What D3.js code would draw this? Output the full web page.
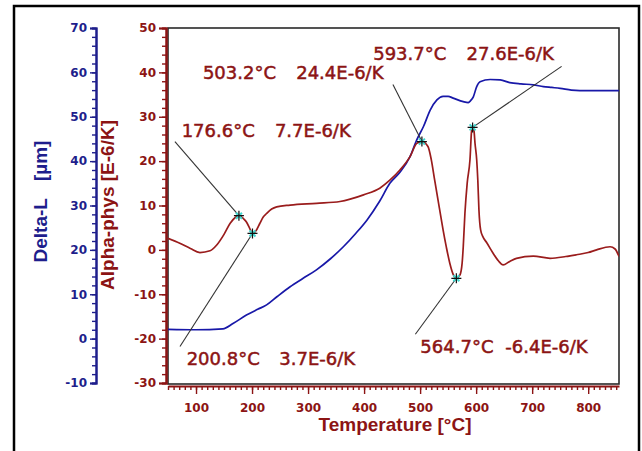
<!DOCTYPE html>
<html>
<head>
<meta charset="utf-8">
<script src="https://cdn.jsdelivr.net/npm/d3@7"></script>
<style>
  html, body { margin: 0; padding: 0; background: #fff; }
  svg { display: block; }
</style>
</head>
<body>
<script>
// ---------------- DATA ----------------
// Alpha-phys curve [E-6/K] vs temperature [°C]
const alphaTemps = [50, 71, 90, 107, 125, 137, 150, 161, 170, 176.6, 185, 190, 196, 200.8, 207, 214, 220, 226, 235, 244, 268, 315, 357, 399, 428, 446, 464, 482, 494, 503.2, 514, 520, 526, 532, 537, 541, 547, 553, 559, 564.7, 571, 575, 577, 580, 584, 589, 592, 593.7, 596, 598, 601, 603, 605, 608, 612, 619, 630, 640, 648, 660, 672, 702, 732, 760, 779, 800, 815, 839, 848, 855];
const alphaValues = [2.6, 1.5, 0.3, -0.6, -0.2, 1.1, 3.5, 6.0, 7.3, 7.7, 7.0, 6.3, 4.8, 3.7, 4.3, 6.0, 7.4, 8.2, 9.2, 9.7, 10.1, 10.5, 10.9, 12.4, 13.9, 15.7, 18.0, 21.0, 24.0, 24.4, 23.3, 20.3, 15.7, 11.2, 7.5, 4.5, 0.5, -3.0, -5.5, -6.4, -5.7, -3.0, 0.7, 8.3, 15.0, 20.3, 27.0, 27.6, 27.0, 24.0, 20.3, 15.7, 9.0, 4.5, 3.0, 1.6, -0.7, -2.5, -3.4, -2.6, -1.9, -1.4, -1.9, -1.5, -1.1, -0.6, 0.0, 0.7, 0.2, -1.5];

// Delta-L curve [µm] vs temperature [°C]
const deltaTemps = [50, 100, 148, 166, 190, 210, 226, 245, 268, 290, 315, 340, 363, 385, 405, 428, 446, 464, 482, 494, 506, 518, 530, 541, 550, 559, 577, 586, 590, 595, 601, 607, 625, 643, 660, 680, 702, 720, 735, 750, 770, 785, 855];
const deltaValues = [2.1, 2.0, 2.2, 3.4, 5.3, 6.6, 7.6, 9.5, 11.7, 13.5, 15.5, 18.0, 20.7, 23.7, 26.7, 31.0, 35.0, 37.5, 41.0, 44.8, 47.8, 51.5, 53.8, 54.6, 54.6, 54.2, 53.4, 53.2, 53.6, 54.5, 56.8, 57.9, 58.4, 58.3, 57.7, 57.4, 57.2, 56.8, 56.6, 56.4, 56.0, 55.9, 55.9];

// Marked points (temperature, alpha)
const markTemps = [176.6, 200.8, 503.2, 593.7, 564.7];
const markValues = [7.7, 3.7, 24.4, 27.6, -6.4];

// Tick labels
const xTickLabels = [100, 200, 300, 400, 500, 600, 700, 800];
const alphaTickLabels = [-30, -20, -10, 0, 10, 20, 30, 40, 50];
const deltaTickLabels = [-10, 0, 10, 20, 30, 40, 50, 60, 70];

// ---------------- LAYOUT ----------------
const W = 642, H = 451;
const plot = { left: 168, right: 619, top: 28, bottom: 383 };
// leader line end offsets (px) from the marker, and label offsets from the leader end
const leaderOffsets = [[-64, -74], [-72.5, 113], [-29, -57], [89, -61], [-41, 56]];
const labelOffsets = [[6.7, -5], [6.7, 18.3], [-190, -5.7], [-188.4, -6], [5, 19]];
const valueGaps = [93.3, 92.6, 93.3, 93.4, 85];

const RED = "#8c1414";
const RED_LINE = "#9a1c1c";
const BLUE = "#1e1e8c";
const BLUE_LINE = "#1818a8";

const svg = d3.select("body").append("svg").attr("width", W).attr("height", H);
svg.append("rect").attr("width", W).attr("height", H).attr("fill", "#fff");

// outer frame
svg.append("rect").attr("x", 14).attr("y", 6).attr("width", 625).attr("height", 460)
  .attr("fill", "none").attr("stroke", "#000").attr("stroke-width", 2.5);

const x = d3.scaleLinear().domain([50, 855]).range([plot.left, plot.right]);
const yA = d3.scaleLinear().domain([-30, 50]).range([plot.bottom, plot.top]);
const yD = d3.scaleLinear().domain([-10, 70]).range([plot.bottom, plot.top]);

// plot frame
svg.append("rect").attr("x", plot.left).attr("y", plot.top)
  .attr("width", plot.right - plot.left).attr("height", plot.bottom + 1 - plot.top)
  .attr("fill", "none").attr("stroke", "#2a2a2a").attr("stroke-width", 1.6);

function styleAxis(g, color) {
  g.selectAll("path").attr("stroke", color).attr("stroke-width", 2);
  g.selectAll("line").attr("stroke", color).attr("stroke-width", 1.4);
  g.selectAll("text").attr("fill", color)
    .style("font-family", "'DejaVu Sans', Verdana, sans-serif")
    .style("font-weight", "bold").style("font-size", "12px");
}

// Alpha axis (red)
const gA1 = svg.append("g").attr("transform", "translate(166,0)")
  .call(d3.axisLeft(yA).tickValues(d3.range(-30, 51, 2)).tickSize(4).tickFormat(""));
styleAxis(gA1, RED);
const gA2 = svg.append("g").attr("transform", "translate(166,0)")
  .call(d3.axisLeft(yA).tickValues(alphaTickLabels).tickSize(7).tickPadding(3).tickFormat(d => String(d)));
styleAxis(gA2, RED);

// Delta-L axis (blue)
const gD1 = svg.append("g").attr("transform", "translate(96,0)")
  .call(d3.axisLeft(yD).tickValues(d3.range(-10, 71, 2)).tickSize(4).tickFormat(""));
styleAxis(gD1, BLUE);
const gD2 = svg.append("g").attr("transform", "translate(96,0)")
  .call(d3.axisLeft(yD).tickValues(deltaTickLabels).tickSize(6).tickPadding(3).tickFormat(d => String(d)));
styleAxis(gD2, BLUE);

// Temperature axis (red, below)
const gX1 = svg.append("g").attr("transform", "translate(0,386)")
  .call(d3.axisBottom(x).tickValues(d3.range(50, 856, 10)).tickSize(4).tickFormat("").tickSizeOuter(0));
styleAxis(gX1, RED);
const gX2 = svg.append("g").attr("transform", "translate(0,386)")
  .call(d3.axisBottom(x).tickValues(xTickLabels).tickSize(8).tickPadding(9).tickFormat(d => String(d)).tickSizeOuter(0));
styleAxis(gX2, RED);
gX2.select("path").remove();

// Axis titles
const titleFont = "'Liberation Sans', Arial, sans-serif";
svg.append("text").attr("x", 395).attr("y", 431).attr("text-anchor", "middle")
  .attr("fill", RED).style("font-family", titleFont).style("font-weight", "bold").style("font-size", "19px")
  .text("Temperature [°C]");

const tD = svg.append("text").attr("transform", "translate(46.5,201.5) rotate(-90)")
  .attr("text-anchor", "middle").attr("fill", BLUE)
  .style("font-family", titleFont).style("font-weight", "bold").style("font-size", "19px");
tD.append("tspan").text("Delta-L");
tD.append("tspan").attr("dx", 17).text("[µm]");

svg.append("text").attr("transform", "translate(114,205) rotate(-90)")
  .attr("text-anchor", "middle").attr("fill", RED)
  .style("font-family", titleFont).style("font-weight", "bold").style("font-size", "19px")
  .text("Alpha-phys [E-6/K]");

// Curves
const clip = svg.append("clipPath").attr("id", "clip").append("rect")
  .attr("x", plot.left).attr("y", plot.top).attr("width", plot.right - plot.left).attr("height", plot.bottom - plot.top);

const deltaData = deltaTemps.map((t, i) => [t, deltaValues[i]]);
const alphaData = alphaTemps.map((t, i) => [t, alphaValues[i]]);

svg.append("path").datum(deltaData).attr("clip-path", "url(#clip)")
  .attr("fill", "none").attr("stroke", BLUE_LINE).attr("stroke-width", 1.7)
  .attr("d", d3.line().x(d => x(d[0])).y(d => yD(d[1])).curve(d3.curveMonotoneX));

svg.append("path").datum(alphaData).attr("clip-path", "url(#clip)")
  .attr("fill", "none").attr("stroke", RED_LINE).attr("stroke-width", 1.7)
  .attr("d", d3.line().x(d => x(d[0])).y(d => yA(d[1])).curve(d3.curveMonotoneX));

// Annotations
const annFont = "'DejaVu Sans', Verdana, sans-serif";
markTemps.forEach((t, i) => {
  const v = markValues[i];
  const mx = x(t), my = yA(v);
  const ex = mx + leaderOffsets[i][0], ey = my + leaderOffsets[i][1];
  svg.append("line").attr("x1", ex).attr("y1", ey).attr("x2", mx).attr("y2", my)
    .attr("stroke", "#333").attr("stroke-width", 1.1);
  // marker
  svg.append("path").attr("d", `M${mx - 3},${my - 3}L${mx + 3},${my + 3}M${mx - 3},${my + 3}L${mx + 3},${my - 3}`)
    .attr("stroke", "#40d8d0").attr("stroke-width", 2);
  svg.append("path").attr("d", `M${mx - 5},${my}L${mx + 5},${my}M${mx},${my - 5}L${mx},${my + 5}`)
    .attr("stroke", "#111").attr("stroke-width", 1.2);
  const lx = ex + labelOffsets[i][0], ly = ey + labelOffsets[i][1];
  [[lx, t.toFixed(1) + "°C"], [lx + valueGaps[i], v.toFixed(1) + "E-6/K"]].forEach(([tx, s]) => {
    svg.append("text").attr("x", tx).attr("y", ly).attr("fill", RED)
      .attr("stroke", RED).attr("stroke-width", 0.5)
      .style("font-family", annFont).style("font-size", "18px")
      .text(s);
  });
});
</script>
</body>
</html>
